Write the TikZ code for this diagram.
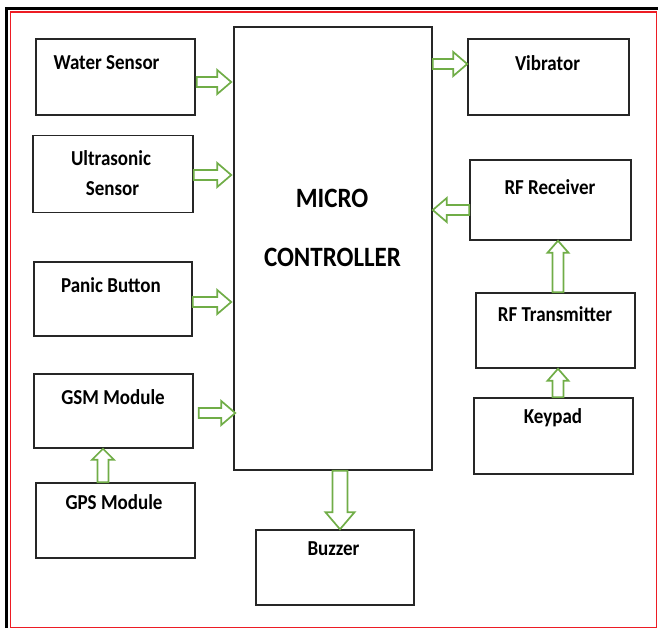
\documentclass[tikz,border=0pt]{standalone}
\usepackage{fontspec}
\usepackage{graphicx}
\setmainfont{Carlito}
\usetikzlibrary{calc}
\definecolor{agreen}{RGB}{112,173,71}
\definecolor{bred}{RGB}{237,28,36}
\newcommand\tallt[1]{\scalebox{1}[1.12]{#1}}
\tikzset{
  box/.style={draw=black!85, line width=1.5pt, rectangle, inner sep=0pt},
  lbl/.style={inner sep=0pt, font=\fontsize{19}{22}\selectfont\bfseries},
  big/.style={inner sep=0pt, font=\fontsize{25}{30}\selectfont\bfseries},
  fatline/.style={draw=agreen, line width=1.7pt, line join=miter, fill=white}
}
\newcommand\fatarr[5]{%
  \coordinate (fa-s) at (#1);
  \coordinate (fa-t) at (#2);
  \coordinate (fa-h) at ($(fa-t)!#5!(fa-s)$);
  \draw[fatline] ($(fa-s)!#3!90:(fa-t)$) -- ($(fa-h)!#3!-90:(fa-s)$) -- ($(fa-h)!#4!-90:(fa-s)$) -- (fa-t) -- ($(fa-h)!#4!90:(fa-s)$) -- ($(fa-h)!#3!90:(fa-s)$) -- ($(fa-s)!#3!-90:(fa-t)$) -- cycle;
}
\begin{document}
\begin{tikzpicture}[x=1pt,y=1pt]
\useasboundingbox (0,0) rectangle (658,-630);
% frame
\draw[black, line width=3pt] (6.5,-628) -- (6.5,-8.5) -- (658,-8.5);
\draw[bred, line width=1.8pt] (10.5,-12) rectangle (656.5,-627.5);
% boxes
\node[box, minimum width=198pt, minimum height=443pt] (mc) at (333,-248.5) {};
\node[box, minimum width=159pt, minimum height=76pt] (ws) at (115.5,-77) {};
\node[box, minimum width=160pt, minimum height=77pt] (us) at (113,-174) {};
\node[box, minimum width=158pt, minimum height=74pt] (pb) at (113,-299) {};
\node[box, minimum width=159pt, minimum height=74pt] (gsm) at (113.5,-411) {};
\node[box, minimum width=159pt, minimum height=75pt] (gps) at (115.5,-520.5) {};
\node[box, minimum width=158pt, minimum height=75pt] (bz) at (335,-567.5) {};
\node[box, minimum width=161pt, minimum height=76pt] (vib) at (548.5,-77) {};
\node[box, minimum width=161pt, minimum height=80pt] (rx) at (550.5,-200) {};
\node[box, minimum width=159pt, minimum height=75pt] (tx) at (555.5,-330.5) {};
\node[box, minimum width=159pt, minimum height=76pt] (kp) at (553.5,-436) {};
% labels
\node[lbl] (wst) at (106.5,-63) {\tallt{Water Sensor}};
\node[lbl] (ust1) at (111,-158) {\tallt{Ultrasonic}};
\node[lbl] (ust2) at (112.5,-189) {\tallt{Sensor}};
\node[lbl] (pbt) at (111,-285) {\tallt{Panic Button}};
\node[lbl] (gsmt) at (113,-397) {\tallt{GSM Module}};
\node[lbl] (gpst) at (114,-502) {\tallt{GPS Module}};
\node[lbl] (bzt) at (333.5,-549) {\tallt{Buzzer}};
\node[lbl] (vibt) at (547.5,-63) {\tallt{Vibrator}};
\node[lbl] (rxt) at (550,-187) {\tallt{RF Receiver}};
\node[lbl] (txt) at (555,-314) {\tallt{RF Transmitter}};
\node[lbl] (kpt) at (553,-418) {\tallt{Keypad}};
\node[big] (mct1) at (332,-198) {\tallt{MICRO}};
\node[big] (mct2) at (332.5,-257) {\tallt{CONTROLLER}};
% arrows
\fatarr{$(ws.east)+(1,-5)$}{$(mc.west|-ws.east)+(-2,-5)$}{5pt}{12pt}{14pt}
\fatarr{$(us.east)+(0,-1)$}{$(mc.west|-us.east)+(-2,-1)$}{5pt}{12pt}{14pt}
\fatarr{$(pb.east)+(0,-3)$}{$(mc.west|-pb.east)+(-2,-3)$}{5pt}{12pt}{14pt}
\fatarr{$(gsm.east)+(5,-2)$}{$(mc.west|-gsm.east)+(2,-2)$}{5pt}{12pt}{14pt}
\fatarr{$(mc.east|-vib.east)+(0,13)$}{$(vib.west)+(0,13)$}{5pt}{12pt}{14pt}
\fatarr{$(rx.west)+(0,-10)$}{$(mc.east|-rx.west)+(0,-10)$}{5pt}{12pt}{14pt}
\fatarr{$(tx.north)+(2.5,0)$}{$(rx.south-|tx.north)+(2.5,0)$}{5.5pt}{10.5pt}{12pt}
\fatarr{$(kp.north)+(4.5,0)$}{$(tx.south-|kp.north)+(4.5,0)$}{5.5pt}{10.5pt}{12pt}
\fatarr{$(gps.north)+(-12.5,0)$}{$(gsm.south-|gps.north)+(-12.5,0)$}{5.5pt}{11pt}{11pt}
\fatarr{$(mc.south-|bz.north)+(5,0)$}{$(bz.north)+(5,0)$}{7.5pt}{14.5pt}{17pt}
\end{tikzpicture}
\end{document}
